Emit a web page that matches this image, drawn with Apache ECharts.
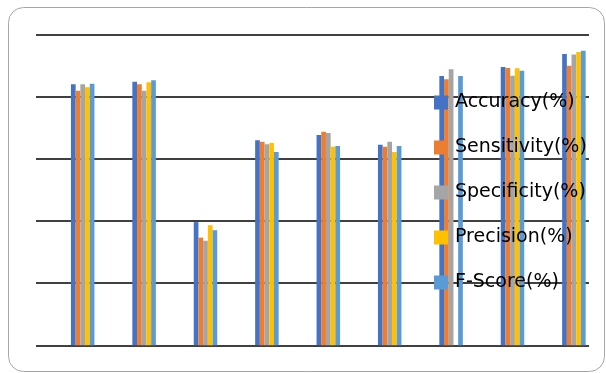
<!DOCTYPE html>
<html>
<head>
<meta charset="utf-8">
<script src="https://cdn.jsdelivr.net/npm/echarts@6/dist/echarts.min.js"></script>
<style>
  html, body { margin: 0; padding: 0; background: #fff; }
  #chart { width: 606px; height: 373px; }
</style>
</head>
<body>
<div id="chart"></div>
<script>
const categories = ['1', '2', '3', '4', '5', '6', '7', '8', '9']
const seriesNames = ['Accuracy(%)', 'Sensitivity(%)', 'Specificity(%)', 'Precision(%)', 'F-Score(%)']
const accuracy = [84.1, 84.9, 39.7, 66.1, 67.8, 64.6, 86.8, 89.7, 93.9]
const sensitivity = [82.0, 84.1, 34.7, 65.6, 68.8, 64.0, 85.7, 89.4, 90.1]
const specificity = [84.1, 82.0, 33.7, 64.8, 68.4, 65.6, 89.0, 86.9, 93.7]
const precision = [83.2, 84.8, 38.7, 65.2, 64.0, 62.3, null, 89.3, 94.5]
const fScore = [84.3, 85.4, 37.1, 62.3, 64.2, 64.2, 86.8, 88.5, 94.9]
const yTicks = [0, 20, 40, 60, 80, 100]

const colors = ['#4472C4', '#ED7D31', '#A5A5A5', '#FFC000', '#5B9BD5']
const values = [accuracy, sensitivity, specificity, precision, fScore]

const chart = echarts.init(document.getElementById('chart'))

const hiddenY = {
  type: 'value',
  min: yTicks[0],
  max: yTicks[yTicks.length - 1],
  interval: yTicks[1] - yTicks[0],
  axisLabel: { show: false },
  axisLine: { show: false },
  axisTick: { show: false }
}

const option = {
  animation: false,
  color: colors,
  graphic: [{
    type: 'rect',
    shape: { x: 8.5, y: 7.5, width: 596, height: 364, r: 15 },
    style: { fill: 'none', stroke: '#a6a6a6', lineWidth: 1 },
    silent: true,
    z: -1
  }],
  legend: {
    orient: 'vertical',
    left: 434,
    top: 93,
    padding: 0,
    itemWidth: 14,
    itemHeight: 14,
    itemGap: 26,
    icon: 'rect',
    textStyle: {
      fontFamily: 'DejaVu Sans',
      fontSize: 19,
      color: '#000',
      padding: [0, 0, 0, 2]
    },
    data: seriesNames
  },
  grid: [
    { left: 36, top: 35, width: 553, height: 310.3 },
    { left: 52, top: 35, width: 552.6, height: 310.3 }
  ],
  xAxis: [
    { gridIndex: 0, type: 'category', data: categories, show: false },
    {
      gridIndex: 1, type: 'category', data: categories,
      axisLine: { show: false }, axisTick: { show: false }, axisLabel: { show: false }
    }
  ],
  yAxis: [
    Object.assign({ gridIndex: 0, splitLine: { lineStyle: { color: '#000', width: 1.5 } } }, hiddenY),
    Object.assign({ gridIndex: 1, splitLine: { show: false } }, hiddenY)
  ],
  series: seriesNames.map((name, i) => ({
    name: name,
    type: 'bar',
    xAxisIndex: 1,
    yAxisIndex: 1,
    barWidth: 4.7,
    barGap: '0%',
    itemStyle: { color: colors[i] },
    data: values[i]
  }))
}

chart.setOption(option)
</script>
</body>
</html>
